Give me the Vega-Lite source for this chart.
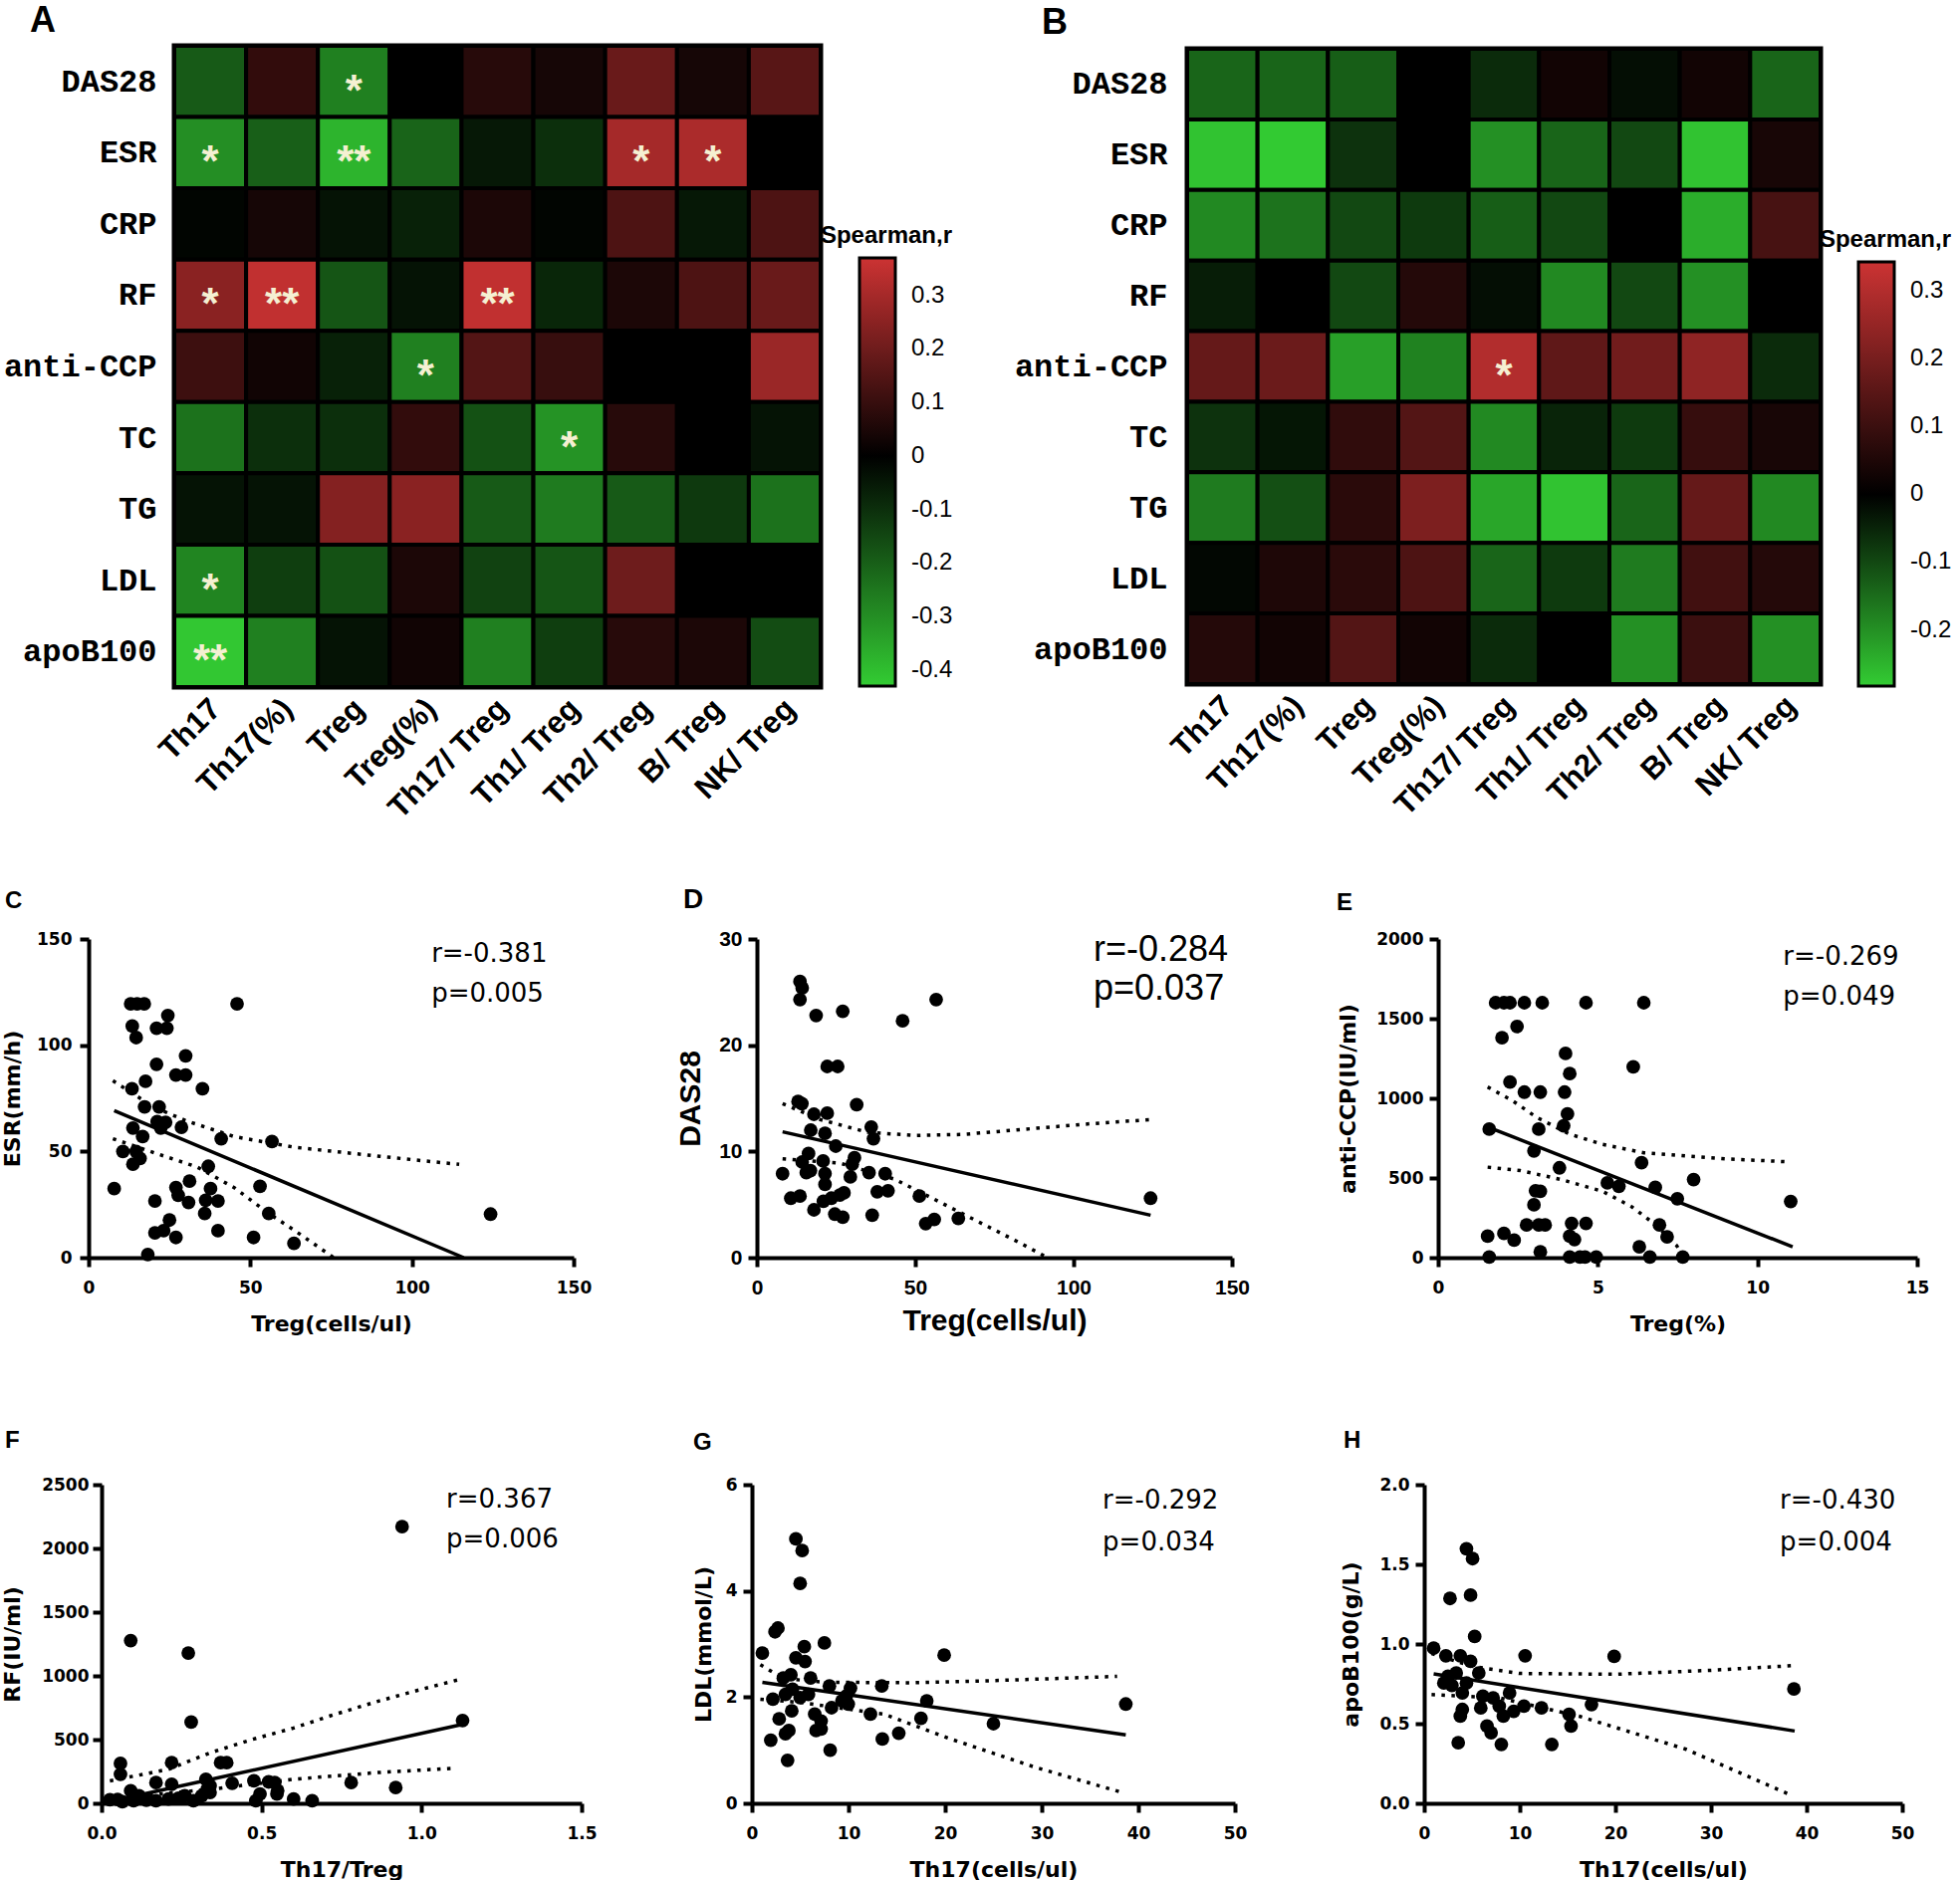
{
"$schema":"https://vega.github.io/schema/vega-lite/v6.json",
"padding":{"left":0,"top":0,"right":0,"bottom":0},
"background":"white",
"config":{
 "view":{"stroke":null},
 "font":"Liberation Sans",
 "axis":{"domainColor":"black","domainWidth":4,"tickColor":"black","tickWidth":4,"tickSize":9,"grid":false,"labelColor":"black","titleColor":"black","labelFont":"DejaVu Sans","labelFontWeight":"bold","labelFontSize":17,"titleFont":"DejaVu Sans","titleFontWeight":"bold","titleFontSize":22,"labelPadding":8,"labelFlush":false,"labelOverlap":false},
 "legend":{"labelFont":"Liberation Sans","labelFontSize":24,"labelColor":"black","titleFont":"Liberation Sans","titleFontSize":24,"titleFontWeight":"bold","titleColor":"black","labelOverlap":false},
 "title":{"font":"Liberation Sans","fontWeight":"bold","color":"black","anchor":"start","frame":"group","baseline":"alphabetic"}
},
"datasets":{
 "hA":[
  {"row":"DAS28","col":"Th17","r":-0.19,"sig":""},{"row":"DAS28","col":"Th17(%)","r":0.09,"sig":""},{"row":"DAS28","col":"Treg","r":-0.27,"sig":"*"},{"row":"DAS28","col":"Treg(%)","r":0.0,"sig":""},{"row":"DAS28","col":"Th17/ Treg","r":0.07,"sig":""},{"row":"DAS28","col":"Th1/ Treg","r":0.04,"sig":""},{"row":"DAS28","col":"Th2/ Treg","r":0.19,"sig":""},{"row":"DAS28","col":"B/ Treg","r":0.04,"sig":""},{"row":"DAS28","col":"NK/ Treg","r":0.16,"sig":""},
  {"row":"ESR","col":"Th17","r":-0.3,"sig":"*"},{"row":"ESR","col":"Th17(%)","r":-0.2,"sig":""},{"row":"ESR","col":"Treg","r":-0.38,"sig":"**"},{"row":"ESR","col":"Treg(%)","r":-0.21,"sig":""},{"row":"ESR","col":"Th17/ Treg","r":-0.05,"sig":""},{"row":"ESR","col":"Th1/ Treg","r":-0.1,"sig":""},{"row":"ESR","col":"Th2/ Treg","r":0.3,"sig":"*"},{"row":"ESR","col":"B/ Treg","r":0.31,"sig":"*"},{"row":"ESR","col":"NK/ Treg","r":0.0,"sig":""},
  {"row":"CRP","col":"Th17","r":-0.01,"sig":""},{"row":"CRP","col":"Th17(%)","r":0.04,"sig":""},{"row":"CRP","col":"Treg","r":-0.04,"sig":""},{"row":"CRP","col":"Treg(%)","r":-0.07,"sig":""},{"row":"CRP","col":"Th17/ Treg","r":0.05,"sig":""},{"row":"CRP","col":"Th1/ Treg","r":-0.01,"sig":""},{"row":"CRP","col":"Th2/ Treg","r":0.14,"sig":""},{"row":"CRP","col":"B/ Treg","r":-0.05,"sig":""},{"row":"CRP","col":"NK/ Treg","r":0.14,"sig":""},
  {"row":"RF","col":"Th17","r":0.25,"sig":"*"},{"row":"RF","col":"Th17(%)","r":0.35,"sig":"**"},{"row":"RF","col":"Treg","r":-0.18,"sig":""},{"row":"RF","col":"Treg(%)","r":-0.04,"sig":""},{"row":"RF","col":"Th17/ Treg","r":0.35,"sig":"**"},{"row":"RF","col":"Th1/ Treg","r":-0.08,"sig":""},{"row":"RF","col":"Th2/ Treg","r":0.05,"sig":""},{"row":"RF","col":"B/ Treg","r":0.14,"sig":""},{"row":"RF","col":"NK/ Treg","r":0.19,"sig":""},
  {"row":"anti-CCP","col":"Th17","r":0.11,"sig":""},{"row":"anti-CCP","col":"Th17(%)","r":0.03,"sig":""},{"row":"anti-CCP","col":"Treg","r":-0.07,"sig":""},{"row":"anti-CCP","col":"Treg(%)","r":-0.27,"sig":"*"},{"row":"anti-CCP","col":"Th17/ Treg","r":0.15,"sig":""},{"row":"anti-CCP","col":"Th1/ Treg","r":0.1,"sig":""},{"row":"anti-CCP","col":"Th2/ Treg","r":0.0,"sig":""},{"row":"anti-CCP","col":"B/ Treg","r":0.0,"sig":""},{"row":"anti-CCP","col":"NK/ Treg","r":0.28,"sig":""},
  {"row":"TC","col":"Th17","r":-0.24,"sig":""},{"row":"TC","col":"Th17(%)","r":-0.1,"sig":""},{"row":"TC","col":"Treg","r":-0.1,"sig":""},{"row":"TC","col":"Treg(%)","r":0.09,"sig":""},{"row":"TC","col":"Th17/ Treg","r":-0.17,"sig":""},{"row":"TC","col":"Th1/ Treg","r":-0.31,"sig":"*"},{"row":"TC","col":"Th2/ Treg","r":0.07,"sig":""},{"row":"TC","col":"B/ Treg","r":0.0,"sig":""},{"row":"TC","col":"NK/ Treg","r":-0.04,"sig":""},
  {"row":"TG","col":"Th17","r":-0.04,"sig":""},{"row":"TG","col":"Th17(%)","r":-0.04,"sig":""},{"row":"TG","col":"Treg","r":0.24,"sig":""},{"row":"TG","col":"Treg(%)","r":0.25,"sig":""},{"row":"TG","col":"Th17/ Treg","r":-0.19,"sig":""},{"row":"TG","col":"Th1/ Treg","r":-0.26,"sig":""},{"row":"TG","col":"Th2/ Treg","r":-0.19,"sig":""},{"row":"TG","col":"B/ Treg","r":-0.12,"sig":""},{"row":"TG","col":"NK/ Treg","r":-0.24,"sig":""},
  {"row":"LDL","col":"Th17","r":-0.28,"sig":"*"},{"row":"LDL","col":"Th17(%)","r":-0.13,"sig":""},{"row":"LDL","col":"Treg","r":-0.17,"sig":""},{"row":"LDL","col":"Treg(%)","r":0.05,"sig":""},{"row":"LDL","col":"Th17/ Treg","r":-0.14,"sig":""},{"row":"LDL","col":"Th1/ Treg","r":-0.18,"sig":""},{"row":"LDL","col":"Th2/ Treg","r":0.2,"sig":""},{"row":"LDL","col":"B/ Treg","r":0.0,"sig":""},{"row":"LDL","col":"NK/ Treg","r":0.0,"sig":""},
  {"row":"apoB100","col":"Th17","r":-0.42,"sig":"**"},{"row":"apoB100","col":"Th17(%)","r":-0.27,"sig":""},{"row":"apoB100","col":"Treg","r":-0.04,"sig":""},{"row":"apoB100","col":"Treg(%)","r":0.03,"sig":""},{"row":"apoB100","col":"Th17/ Treg","r":-0.27,"sig":""},{"row":"apoB100","col":"Th1/ Treg","r":-0.13,"sig":""},{"row":"apoB100","col":"Th2/ Treg","r":0.07,"sig":""},{"row":"apoB100","col":"B/ Treg","r":0.05,"sig":""},{"row":"apoB100","col":"NK/ Treg","r":-0.16,"sig":""}
 ],
 "hB":[
  {"row":"DAS28","col":"Th17","r":-0.14,"sig":""},{"row":"DAS28","col":"Th17(%)","r":-0.14,"sig":""},{"row":"DAS28","col":"Treg","r":-0.13,"sig":""},{"row":"DAS28","col":"Treg(%)","r":0.0,"sig":""},{"row":"DAS28","col":"Th17/ Treg","r":-0.06,"sig":""},{"row":"DAS28","col":"Th1/ Treg","r":0.03,"sig":""},{"row":"DAS28","col":"Th2/ Treg","r":-0.02,"sig":""},{"row":"DAS28","col":"B/ Treg","r":0.03,"sig":""},{"row":"DAS28","col":"NK/ Treg","r":-0.14,"sig":""},
  {"row":"ESR","col":"Th17","r":-0.27,"sig":""},{"row":"ESR","col":"Th17(%)","r":-0.28,"sig":""},{"row":"ESR","col":"Treg","r":-0.07,"sig":""},{"row":"ESR","col":"Treg(%)","r":0.0,"sig":""},{"row":"ESR","col":"Th17/ Treg","r":-0.2,"sig":""},{"row":"ESR","col":"Th1/ Treg","r":-0.14,"sig":""},{"row":"ESR","col":"Th2/ Treg","r":-0.1,"sig":""},{"row":"ESR","col":"B/ Treg","r":-0.27,"sig":""},{"row":"ESR","col":"NK/ Treg","r":0.04,"sig":""},
  {"row":"CRP","col":"Th17","r":-0.19,"sig":""},{"row":"CRP","col":"Th17(%)","r":-0.16,"sig":""},{"row":"CRP","col":"Treg","r":-0.1,"sig":""},{"row":"CRP","col":"Treg(%)","r":-0.08,"sig":""},{"row":"CRP","col":"Th17/ Treg","r":-0.13,"sig":""},{"row":"CRP","col":"Th1/ Treg","r":-0.1,"sig":""},{"row":"CRP","col":"Th2/ Treg","r":0.0,"sig":""},{"row":"CRP","col":"B/ Treg","r":-0.24,"sig":""},{"row":"CRP","col":"NK/ Treg","r":0.12,"sig":""},
  {"row":"RF","col":"Th17","r":-0.04,"sig":""},{"row":"RF","col":"Th17(%)","r":0.0,"sig":""},{"row":"RF","col":"Treg","r":-0.1,"sig":""},{"row":"RF","col":"Treg(%)","r":0.06,"sig":""},{"row":"RF","col":"Th17/ Treg","r":-0.02,"sig":""},{"row":"RF","col":"Th1/ Treg","r":-0.19,"sig":""},{"row":"RF","col":"Th2/ Treg","r":-0.1,"sig":""},{"row":"RF","col":"B/ Treg","r":-0.2,"sig":""},{"row":"RF","col":"NK/ Treg","r":0.0,"sig":""},
  {"row":"anti-CCP","col":"Th17","r":0.17,"sig":""},{"row":"anti-CCP","col":"Th17(%)","r":0.18,"sig":""},{"row":"anti-CCP","col":"Treg","r":-0.22,"sig":""},{"row":"anti-CCP","col":"Treg(%)","r":-0.18,"sig":""},{"row":"anti-CCP","col":"Th17/ Treg","r":0.3,"sig":"*"},{"row":"anti-CCP","col":"Th1/ Treg","r":0.16,"sig":""},{"row":"anti-CCP","col":"Th2/ Treg","r":0.19,"sig":""},{"row":"anti-CCP","col":"B/ Treg","r":0.24,"sig":""},{"row":"anti-CCP","col":"NK/ Treg","r":-0.06,"sig":""},
  {"row":"TC","col":"Th17","r":-0.07,"sig":""},{"row":"TC","col":"Th17(%)","r":-0.03,"sig":""},{"row":"TC","col":"Treg","r":0.08,"sig":""},{"row":"TC","col":"Treg(%)","r":0.14,"sig":""},{"row":"TC","col":"Th17/ Treg","r":-0.19,"sig":""},{"row":"TC","col":"Th1/ Treg","r":-0.05,"sig":""},{"row":"TC","col":"Th2/ Treg","r":-0.08,"sig":""},{"row":"TC","col":"B/ Treg","r":0.09,"sig":""},{"row":"TC","col":"NK/ Treg","r":0.04,"sig":""},
  {"row":"TG","col":"Th17","r":-0.17,"sig":""},{"row":"TG","col":"Th17(%)","r":-0.11,"sig":""},{"row":"TG","col":"Treg","r":0.07,"sig":""},{"row":"TG","col":"Treg(%)","r":0.21,"sig":""},{"row":"TG","col":"Th17/ Treg","r":-0.23,"sig":""},{"row":"TG","col":"Th1/ Treg","r":-0.27,"sig":""},{"row":"TG","col":"Th2/ Treg","r":-0.14,"sig":""},{"row":"TG","col":"B/ Treg","r":0.17,"sig":""},{"row":"TG","col":"NK/ Treg","r":-0.19,"sig":""},
  {"row":"LDL","col":"Th17","r":-0.01,"sig":""},{"row":"LDL","col":"Th17(%)","r":0.05,"sig":""},{"row":"LDL","col":"Treg","r":0.07,"sig":""},{"row":"LDL","col":"Treg(%)","r":0.13,"sig":""},{"row":"LDL","col":"Th17/ Treg","r":-0.14,"sig":""},{"row":"LDL","col":"Th1/ Treg","r":-0.08,"sig":""},{"row":"LDL","col":"Th2/ Treg","r":-0.17,"sig":""},{"row":"LDL","col":"B/ Treg","r":0.11,"sig":""},{"row":"LDL","col":"NK/ Treg","r":0.06,"sig":""},
  {"row":"apoB100","col":"Th17","r":0.06,"sig":""},{"row":"apoB100","col":"Th17(%)","r":0.03,"sig":""},{"row":"apoB100","col":"Treg","r":0.14,"sig":""},{"row":"apoB100","col":"Treg(%)","r":0.03,"sig":""},{"row":"apoB100","col":"Th17/ Treg","r":-0.06,"sig":""},{"row":"apoB100","col":"Th1/ Treg","r":0.0,"sig":""},{"row":"apoB100","col":"Th2/ Treg","r":-0.2,"sig":""},{"row":"apoB100","col":"B/ Treg","r":0.1,"sig":""},{"row":"apoB100","col":"NK/ Treg","r":-0.2,"sig":""}
 ],
 "cP":[{"x":7.9,"y":32.5},{"x":10.6,"y":50},{"x":13.0,"y":119.5},{"x":15.0,"y":119.5},{"x":17.2,"y":119.5},{"x":13.5,"y":109},{"x":14.7,"y":103.6},{"x":13.4,"y":79.5},{"x":17.6,"y":83},{"x":17.3,"y":71},{"x":13.7,"y":61},{"x":16.7,"y":57},{"x":13.7,"y":44},{"x":15.9,"y":46.7},{"x":14.7,"y":50},{"x":21,"y":91},{"x":21,"y":108},{"x":24.2,"y":108},{"x":24.5,"y":114},{"x":21.8,"y":71},{"x":21.2,"y":64},{"x":23.8,"y":63.7},{"x":22.3,"y":61},{"x":27,"y":86},{"x":30,"y":86},{"x":30,"y":95},{"x":28.7,"y":61.4},{"x":35.2,"y":79.5},{"x":41,"y":56},{"x":45.9,"y":119.5},{"x":56.7,"y":54.7},{"x":18.3,"y":1.5},{"x":20.5,"y":26.7},{"x":20.5,"y":11.7},{"x":23.2,"y":12.7},{"x":25,"y":17.7},{"x":27,"y":9.5},{"x":27,"y":33},{"x":27.7,"y":29.4},{"x":31.2,"y":36},{"x":30.9,"y":26},{"x":37,"y":43},{"x":37.7,"y":32.5},{"x":36.2,"y":27},{"x":40,"y":26.7},{"x":35.9,"y":20.8},{"x":40,"y":12.7},{"x":51,"y":9.5},{"x":53,"y":33.6},{"x":55.7,"y":20.8},{"x":63.5,"y":6.7},{"x":124.3,"y":20.5}],
 "cL":[{"k":"fit","x":7.9,"y":69.2},{"k":"fit","x":116,"y":0},
  {"k":"up","x":7.5,"y":83.3},{"k":"up","x":20,"y":71},{"k":"up","x":30,"y":64.5},{"k":"up","x":45,"y":57},{"k":"up","x":63.5,"y":52},{"k":"up","x":90,"y":47.7},{"k":"up","x":114.6,"y":43.9},
  {"k":"lo","x":7.5,"y":56},{"k":"lo","x":20,"y":49.5},{"k":"lo","x":33.5,"y":42.7},{"k":"lo","x":45,"y":33},{"k":"lo","x":55.7,"y":20.8},{"k":"lo","x":63.5,"y":13},{"k":"lo","x":75.8,"y":0}],
 "cT":[{"x":106,"y":143,"t":"r=-0.381"},{"x":106,"y":124,"t":"p=0.005"}],
 "dP":[{"x":8.1,"y":7.9},{"x":10.7,"y":5.6},{"x":13.6,"y":5.8},{"x":13.6,"y":26.0},{"x":14.3,"y":25.4},{"x":13.6,"y":24.3},{"x":18.7,"y":22.8},{"x":13,"y":14.7},{"x":14.2,"y":14.5},{"x":18,"y":13.5},{"x":22.2,"y":13.6},{"x":22.2,"y":18.0},{"x":25.5,"y":18.0},{"x":27.1,"y":23.2},{"x":31.5,"y":14.4},{"x":46,"y":22.3},{"x":56.6,"y":24.3},{"x":17,"y":12.0},{"x":21.5,"y":11.7},{"x":24.9,"y":10.5},{"x":16.3,"y":9.8},{"x":14.3,"y":9.0},{"x":15.6,"y":8.0},{"x":16.9,"y":8.2},{"x":20.9,"y":9.1},{"x":21.5,"y":7.9},{"x":21.5,"y":6.9},{"x":30.8,"y":9.4},{"x":30.1,"y":8.8},{"x":29.5,"y":7.6},{"x":36.1,"y":12.3},{"x":36.8,"y":11.2},{"x":35.4,"y":8.0},{"x":40.5,"y":7.9},{"x":38,"y":6.2},{"x":41.4,"y":6.3},{"x":27.5,"y":6.1},{"x":26.2,"y":5.9},{"x":18,"y":4.5},{"x":21,"y":5.3},{"x":23.5,"y":5.6},{"x":24.6,"y":4.1},{"x":27.1,"y":3.8},{"x":36.4,"y":4.0},{"x":51.3,"y":5.8},{"x":53.3,"y":3.2},{"x":56,"y":3.6},{"x":63.6,"y":3.7},{"x":124.3,"y":5.6}],
 "dL":[{"k":"fit","x":8.1,"y":11.85},{"k":"fit","x":124.3,"y":4.0},
  {"k":"up","x":8.1,"y":14.5},{"k":"up","x":20,"y":13.0},{"k":"up","x":35,"y":11.8},{"k":"up","x":50,"y":11.5},{"k":"up","x":65,"y":11.6},{"k":"up","x":85,"y":12.1},{"k":"up","x":105,"y":12.6},{"k":"up","x":124.3,"y":13.0},
  {"k":"lo","x":8.1,"y":9.3},{"k":"lo","x":26.2,"y":8.9},{"k":"lo","x":43.4,"y":7.4},{"k":"lo","x":54,"y":5.8},{"k":"lo","x":69.8,"y":3.4},{"k":"lo","x":83,"y":1.4},{"k":"lo","x":91.7,"y":0}],
 "dT":[{"x":106.3,"y":29.0,"t":"r=-0.284"},{"x":106.3,"y":25.3,"t":"p=0.037"}],
 "eP":[{"x":1.6,"y":4},{"x":1.55,"y":135},{"x":1.6,"y":807},{"x":1.8,"y":1600},{"x":2.06,"y":1600},{"x":2.25,"y":1600},{"x":2.7,"y":1600},{"x":3.26,"y":1600},{"x":2.0,"y":1381},{"x":2.47,"y":1451},{"x":2.25,"y":1102},{"x":2.7,"y":1039},{"x":3.2,"y":1039},{"x":2.06,"y":152},{"x":2.38,"y":110},{"x":2.77,"y":205},{"x":3.15,"y":205},{"x":3.35,"y":205},{"x":3.15,"y":807},{"x":3.0,"y":670},{"x":3.2,"y":416},{"x":3.05,"y":420},{"x":3.0,"y":332},{"x":3.2,"y":36},{"x":3.99,"y":1282},{"x":4.12,"y":1155},{"x":3.96,"y":1039},{"x":4.05,"y":902},{"x":3.93,"y":828},{"x":3.8,"y":564},{"x":4.18,"y":215},{"x":4.12,"y":135},{"x":4.27,"y":114},{"x":4.12,"y":4},{"x":4.44,"y":4},{"x":4.6,"y":4},{"x":4.63,"y":1600},{"x":4.63,"y":215},{"x":4.95,"y":4},{"x":5.3,"y":469},{"x":5.66,"y":448},{"x":6.11,"y":1197},{"x":6.44,"y":1600},{"x":6.37,"y":596},{"x":6.3,"y":68},{"x":6.63,"y":4},{"x":6.8,"y":441},{"x":6.93,"y":205},{"x":7.17,"y":131},{"x":7.49,"y":370},{"x":7.66,"y":4},{"x":8.0,"y":490},{"x":11.04,"y":353}],
 "eL":[{"k":"fit","x":1.6,"y":817},{"k":"fit","x":11.1,"y":68},
  {"k":"up","x":1.55,"y":1071},{"k":"up","x":2.32,"y":986},{"k":"up","x":3.09,"y":880},{"k":"up","x":4.12,"y":775},{"k":"up","x":5.15,"y":711},{"k":"up","x":6.44,"y":658},{"k":"up","x":9.0,"y":620},{"k":"up","x":11.04,"y":601},
  {"k":"lo","x":1.55,"y":568},{"k":"lo","x":2.57,"y":547},{"k":"lo","x":3.86,"y":490},{"k":"lo","x":5.15,"y":416},{"k":"lo","x":6.05,"y":321},{"k":"lo","x":6.82,"y":205},{"k":"lo","x":7.46,"y":78},{"k":"lo","x":7.72,"y":0}],
 "eT":[{"x":10.8,"y":1886,"t":"r=-0.269"},{"x":10.8,"y":1638,"t":"p=0.049"}],
 "fP":[{"x":0.939,"y":2171},{"x":0.091,"y":1277},{"x":0.271,"y":1179},{"x":0.28,"y":637},{"x":1.128,"y":650},{"x":0.059,"y":313},{"x":0.059,"y":228},{"x":0.219,"y":319},{"x":0.372,"y":319},{"x":0.391,"y":319},{"x":0.17,"y":163},{"x":0.219,"y":150},{"x":0.326,"y":189},{"x":0.408,"y":158},{"x":0.476,"y":176},{"x":0.522,"y":168},{"x":0.541,"y":163},{"x":0.78,"y":163},{"x":0.919,"y":124},{"x":0.091,"y":98},{"x":0.026,"y":28},{"x":0.117,"y":60},{"x":0.26,"y":60},{"x":0.313,"y":60},{"x":0.339,"y":85},{"x":0.495,"y":73},{"x":0.548,"y":73},{"x":0.6,"y":34},{"x":0.658,"y":21},{"x":0.209,"y":34},{"x":0.17,"y":20},{"x":0.065,"y":13},{"x":0.14,"y":25},{"x":0.287,"y":21},{"x":0.339,"y":137},{"x":0.482,"y":21},{"x":0.05,"y":30},{"x":0.1,"y":20},{"x":0.24,"y":40},{"x":0.33,"y":110},{"x":0.55,"y":100}],
 "fL":[{"k":"fit","x":0.02,"y":12},{"k":"fit","x":1.12,"y":615},
  {"k":"up","x":0.026,"y":176},{"k":"up","x":0.209,"y":267},{"k":"up","x":0.339,"y":396},{"k":"up","x":0.469,"y":500},{"k":"up","x":0.6,"y":591},{"k":"up","x":0.73,"y":699},{"k":"up","x":0.86,"y":798},{"k":"up","x":0.991,"y":889},{"k":"up","x":1.119,"y":972},
  {"k":"lo","x":0.026,"y":34},{"k":"lo","x":0.365,"y":117},{"k":"lo","x":0.6,"y":189},{"k":"lo","x":0.86,"y":241},{"k":"lo","x":1.10,"y":275}],
 "fT":[{"x":1.077,"y":2383,"t":"r=0.367"},{"x":1.077,"y":2070,"t":"p=0.006"}],
 "gP":[{"x":1.08,"y":2.83},{"x":1.95,"y":1.19},{"x":2.17,"y":1.96},{"x":2.39,"y":3.23},{"x":2.69,"y":3.30},{"x":2.82,"y":1.59},{"x":3.25,"y":2.36},{"x":3.47,"y":1.31},{"x":3.82,"y":1.37},{"x":3.69,"y":0.81},{"x":4.03,"y":2.42},{"x":4.12,"y":1.74},{"x":3.47,"y":2.05},{"x":4.55,"y":4.98},{"x":5.2,"y":4.76},{"x":4.99,"y":4.14},{"x":4.55,"y":2.74},{"x":5.42,"y":2.95},{"x":5.5,"y":2.67},{"x":4.99,"y":1.99},{"x":4.2,"y":2.15},{"x":6.07,"y":2.36},{"x":5.85,"y":2.05},{"x":6.5,"y":1.68},{"x":6.64,"y":1.37},{"x":7.16,"y":1.55},{"x":7.16,"y":1.40},{"x":7.5,"y":3.02},{"x":8.02,"y":2.21},{"x":8.1,"y":1.0},{"x":8.24,"y":1.8},{"x":9.32,"y":1.93},{"x":9.76,"y":2.02},{"x":10.2,"y":2.17},{"x":9.97,"y":1.87},{"x":12.27,"y":1.68},{"x":13.44,"y":2.21},{"x":13.5,"y":1.21},{"x":15.2,"y":1.32},{"x":17.5,"y":1.6},{"x":18.1,"y":1.93},{"x":19.9,"y":2.79},{"x":25.0,"y":1.5},{"x":38.7,"y":1.87}],
 "gL":[{"k":"fit","x":1.08,"y":2.28},{"k":"fit","x":38.7,"y":1.29},
  {"k":"up","x":0.87,"y":2.61},{"k":"up","x":3.25,"y":2.35},{"k":"up","x":7.6,"y":2.28},{"k":"up","x":16.3,"y":2.27},{"k":"up","x":24.9,"y":2.31},{"k":"up","x":37.8,"y":2.39},
  {"k":"lo","x":0.87,"y":1.96},{"k":"lo","x":5,"y":1.9},{"k":"lo","x":13.66,"y":1.68},{"k":"lo","x":20.6,"y":1.21},{"k":"lo","x":29.3,"y":0.68},{"k":"lo","x":38.6,"y":0.19}],
 "gT":[{"x":36.3,"y":5.70,"t":"r=-0.292"},{"x":36.3,"y":4.92,"t":"p=0.034"}],
 "hP":[{"x":0.99,"y":0.974},{"x":2.27,"y":0.926},{"x":2.7,"y":1.286},{"x":2.06,"y":0.755},{"x":2.49,"y":0.797},{"x":3.35,"y":0.818},{"x":3.56,"y":0.381},{"x":3.78,"y":0.926},{"x":3.78,"y":0.547},{"x":3.99,"y":0.589},{"x":3.99,"y":0.693},{"x":4.42,"y":1.598},{"x":5.06,"y":1.536},{"x":4.85,"y":1.307},{"x":5.28,"y":1.047},{"x":4.85,"y":0.891},{"x":4.42,"y":0.755},{"x":5.71,"y":0.818},{"x":5.92,"y":0.599},{"x":6.14,"y":0.672},{"x":6.57,"y":0.485},{"x":7.0,"y":0.443},{"x":7.21,"y":0.662},{"x":8.07,"y":0.370},{"x":8.28,"y":0.547},{"x":7.85,"y":0.61},{"x":8.93,"y":0.693},{"x":9.36,"y":0.578},{"x":10.43,"y":0.61},{"x":10.56,"y":0.926},{"x":12.27,"y":0.599},{"x":13.35,"y":0.370},{"x":15.15,"y":0.558},{"x":15.36,"y":0.485},{"x":17.5,"y":0.62},{"x":19.87,"y":0.922},{"x":38.67,"y":0.718},{"x":2.9,"y":0.74}],
 "hL":[{"k":"fit","x":0.99,"y":0.812},{"k":"fit","x":38.75,"y":0.454},
  {"k":"up","x":0.77,"y":0.94},{"k":"up","x":5,"y":0.86},{"k":"up","x":10,"y":0.815},{"k":"up","x":20,"y":0.81},{"k":"up","x":30,"y":0.835},{"k":"up","x":38.75,"y":0.865},
  {"k":"lo","x":0.77,"y":0.683},{"k":"lo","x":8,"y":0.66},{"k":"lo","x":16.2,"y":0.547},{"k":"lo","x":27.4,"y":0.339},{"k":"lo","x":38.5,"y":0.048}],
 "hT":[{"x":37.2,"y":1.9,"t":"r=-0.430"},{"x":37.2,"y":1.64,"t":"p=0.004"}]
},
"resolve":{"scale":{"x":"independent","y":"independent","color":"independent"},"legend":{"color":"independent"}},
"spacing":0,
"vconcat":[
 {"hconcat":[
   {"width":173,"height":10,"data":{"values":[{}]},"mark":{"type":"point","opacity":0,"size":1},"encoding":{}},
   {"width":649,"height":644,"data":{"name":"hA"},
    "title":{"text":"A","dx":-145,"offset":4,"fontSize":36},
    "view":{"stroke":"black","strokeWidth":5},
    "layer":[
     {"mark":{"type":"rect","stroke":"black","strokeWidth":4},
      "encoding":{
       "x":{"field":"col","type":"nominal","sort":["Th17","Th17(%)","Treg","Treg(%)","Th17/ Treg","Th1/ Treg","Th2/ Treg","B/ Treg","NK/ Treg"],"scale":{"paddingInner":0,"paddingOuter":0},
        "axis":{"title":null,"ticks":false,"domain":false,"labelAngle":-45,"labelAlign":"right","labelBaseline":"middle","labelFont":"Liberation Sans","labelFontWeight":"bold","labelFontSize":31,"labelPadding":17,"labelOffset":6,"labelLimit":400}},
       "y":{"field":"row","type":"nominal","sort":["DAS28","ESR","CRP","RF","anti-CCP","TC","TG","LDL","apoB100"],"scale":{"paddingInner":0,"paddingOuter":0},
        "axis":{"title":null,"ticks":false,"domain":false,"labelFont":"Liberation Mono","labelFontWeight":"bold","labelFontSize":32,"labelPadding":18,"labelLimit":400}},
       "color":{"field":"r","type":"quantitative","scale":{"domain":[-0.43,0,0.37],"range":["#33cc33","#000000","#cc3333"],"interpolate":"rgb"},
        "legend":{"title":"Spearman,r","orient":"none","legendX":649,"legendY":179,"direction":"vertical","gradientLength":430,"gradientThickness":36,"gradientStrokeColor":"black","gradientStrokeWidth":3,"values":[0.3,0.2,0.1,0,-0.1,-0.2,-0.3,-0.4],"labelExpr":"datum.value == 0 ? '0' : toString(datum.value)","labelOffset":16,"titlePadding":10,"titleAnchor":"end"}}
      }},
     {"transform":[{"filter":"datum.sig != ''"}],
      "mark":{"type":"text","color":"#f5f0d2","fontSize":44,"fontWeight":"bold","font":"Liberation Sans","baseline":"alphabetic","dy":24},
      "encoding":{
       "x":{"field":"col","type":"nominal","sort":["Th17","Th17(%)","Treg","Treg(%)","Th17/ Treg","Th1/ Treg","Th2/ Treg","B/ Treg","NK/ Treg"]},
       "y":{"field":"row","type":"nominal","sort":["DAS28","ESR","CRP","RF","anti-CCP","TC","TG","LDL","apoB100"]},
       "text":{"field":"sig"}}}
    ]},
   {"width":368,"height":10,"data":{"values":[{}]},"mark":{"type":"point","opacity":0,"size":1},"encoding":{}},
   {"width":636,"height":638,"data":{"name":"hB"},
    "title":{"text":"B","dx":-146,"offset":5,"fontSize":36},
    "view":{"stroke":"black","strokeWidth":5},
    "layer":[
     {"mark":{"type":"rect","stroke":"black","strokeWidth":4},
      "encoding":{
       "x":{"field":"col","type":"nominal","sort":["Th17","Th17(%)","Treg","Treg(%)","Th17/ Treg","Th1/ Treg","Th2/ Treg","B/ Treg","NK/ Treg"],"scale":{"paddingInner":0,"paddingOuter":0},
        "axis":{"title":null,"ticks":false,"domain":false,"labelAngle":-45,"labelAlign":"right","labelBaseline":"middle","labelFont":"Liberation Sans","labelFontWeight":"bold","labelFontSize":31,"labelPadding":17,"labelOffset":6,"labelLimit":400}},
       "y":{"field":"row","type":"nominal","sort":["DAS28","ESR","CRP","RF","anti-CCP","TC","TG","LDL","apoB100"],"scale":{"paddingInner":0,"paddingOuter":0},
        "axis":{"title":null,"ticks":false,"domain":false,"labelFont":"Liberation Mono","labelFontWeight":"bold","labelFontSize":32,"labelPadding":20,"labelLimit":400}},
       "color":{"field":"r","type":"quantitative","scale":{"domain":[-0.283,0,0.343],"range":["#33cc33","#000000","#cc3333"],"interpolate":"rgb"},
        "legend":{"title":"Spearman,r","orient":"none","legendX":635,"legendY":180,"direction":"vertical","gradientLength":426,"gradientThickness":36,"gradientStrokeColor":"black","gradientStrokeWidth":3,"values":[0.3,0.2,0.1,0,-0.1,-0.2],"labelExpr":"datum.value == 0 ? '0' : toString(datum.value)","labelOffset":16,"titlePadding":10,"titleAnchor":"end"}}
      }},
     {"transform":[{"filter":"datum.sig != ''"}],
      "mark":{"type":"text","color":"#f5f0d2","fontSize":44,"fontWeight":"bold","font":"Liberation Sans","baseline":"alphabetic","dy":24},
      "encoding":{
       "x":{"field":"col","type":"nominal","sort":["Th17","Th17(%)","Treg","Treg(%)","Th17/ Treg","Th1/ Treg","Th2/ Treg","B/ Treg","NK/ Treg"]},
       "y":{"field":"row","type":"nominal","sort":["DAS28","ESR","CRP","RF","anti-CCP","TC","TG","LDL","apoB100"]},
       "text":{"field":"sig"}}}
    ]}
  ],
  "spacing":0,"bounds":"flush","center":true,
  "resolve":{"scale":{"x":"independent","y":"independent","color":"independent"},"legend":{"color":"independent"}}},
 {"width":1,"height":60,"data":{"values":[{}]},"mark":{"type":"point","opacity":0,"size":1},"encoding":{}},
 {"hconcat":[
   {"width":87,"height":10,"data":{"values":[{}]},"mark":{"type":"point","opacity":0,"size":1},"encoding":{}},
   {"width":487,"height":320,
    "title":{"text":"C","dx":-84,"offset":17,"fontSize":24},
    "layer":[
     {"data":{"name":"cP"},"mark":{"type":"circle","size":190,"color":"black","opacity":1},
      "encoding":{"x":{"field":"x","type":"quantitative","scale":{"domain":[0,150],"nice":false,"zero":false},"axis":{"values":[0,50,100,150],"format":"d","title":"Treg(cells/ul)","labelPadding":13,"titlePadding":18}},
       "y":{"field":"y","type":"quantitative","scale":{"domain":[0,150],"nice":false,"zero":false},"axis":{"values":[0,50,100,150],"format":"d","title":"ESR(mm/h)","labelPadding":8,"titlePadding":12}}}},
     {"data":{"name":"cL"},"transform":[{"filter":"datum.k == 'fit'"}],"mark":{"type":"line","color":"black","strokeWidth":3.5},"encoding":{"x":{"field":"x","type":"quantitative"},"y":{"field":"y","type":"quantitative"}}},
     {"data":{"name":"cL"},"transform":[{"filter":"datum.k != 'fit'"}],"mark":{"type":"line","color":"black","strokeWidth":3.5,"strokeDash":[3.5,6.5]},"encoding":{"x":{"field":"x","type":"quantitative"},"y":{"field":"y","type":"quantitative"},"detail":{"field":"k"}}},
     {"data":{"name":"cT"},"mark":{"type":"text","align":"left","baseline":"middle","font":"DejaVu Sans","fontSize":26,"color":"black"},"encoding":{"x":{"field":"x","type":"quantitative"},"y":{"field":"y","type":"quantitative"},"text":{"field":"t"}}}
    ]},
   {"width":184,"height":10,"data":{"values":[{}]},"mark":{"type":"point","opacity":0,"size":1},"encoding":{}},
   {"width":477,"height":320,
    "title":{"text":"D","dx":-74,"offset":14,"fontSize":28},
    "layer":[
     {"data":{"name":"dP"},"mark":{"type":"circle","size":190,"color":"black","opacity":1},
      "encoding":{"x":{"field":"x","type":"quantitative","scale":{"domain":[0,150],"nice":false,"zero":false},"axis":{"values":[0,50,100,150],"format":"d","title":"Treg(cells/ul)","labelFont":"Liberation Sans","labelFontSize":21,"titleFont":"Liberation Sans","titleFontSize":30,"labelPadding":10,"titlePadding":8}},
       "y":{"field":"y","type":"quantitative","scale":{"domain":[0,30],"nice":false,"zero":false},"axis":{"values":[0,10,20,30],"format":"d","title":"DAS28","labelFont":"Liberation Sans","labelFontSize":21,"titleFont":"Liberation Sans","titleFontSize":30,"labelPadding":6,"titlePadding":13}}}},
     {"data":{"name":"dL"},"transform":[{"filter":"datum.k == 'fit'"}],"mark":{"type":"line","color":"black","strokeWidth":3.5},"encoding":{"x":{"field":"x","type":"quantitative"},"y":{"field":"y","type":"quantitative"}}},
     {"data":{"name":"dL"},"transform":[{"filter":"datum.k != 'fit'"}],"mark":{"type":"line","color":"black","strokeWidth":3.5,"strokeDash":[3.5,6.5]},"encoding":{"x":{"field":"x","type":"quantitative"},"y":{"field":"y","type":"quantitative"},"detail":{"field":"k"}}},
     {"data":{"name":"dT"},"mark":{"type":"text","align":"left","baseline":"middle","font":"Liberation Sans","fontSize":36,"color":"black"},"encoding":{"x":{"field":"x","type":"quantitative"},"y":{"field":"y","type":"quantitative"},"text":{"field":"t"}}}
    ]},
   {"width":207,"height":10,"data":{"values":[{}]},"mark":{"type":"point","opacity":0,"size":1},"encoding":{}},
   {"width":481,"height":320,
    "title":{"text":"E","dx":-102,"offset":15,"fontSize":24},
    "layer":[
     {"data":{"name":"eP"},"mark":{"type":"circle","size":190,"color":"black","opacity":1},
      "encoding":{"x":{"field":"x","type":"quantitative","scale":{"domain":[0,15],"nice":false,"zero":false},"axis":{"values":[0,5,10,15],"format":"d","title":"Treg(%)","labelPadding":13,"titlePadding":18}},
       "y":{"field":"y","type":"quantitative","scale":{"domain":[0,2000],"nice":false,"zero":false},"axis":{"values":[0,500,1000,1500,2000],"format":"d","title":"anti-CCP(IU/ml)","labelPadding":6,"titlePadding":16}}}},
     {"data":{"name":"eL"},"transform":[{"filter":"datum.k == 'fit'"}],"mark":{"type":"line","color":"black","strokeWidth":3.5},"encoding":{"x":{"field":"x","type":"quantitative"},"y":{"field":"y","type":"quantitative"}}},
     {"data":{"name":"eL"},"transform":[{"filter":"datum.k != 'fit'"}],"mark":{"type":"line","color":"black","strokeWidth":3.5,"strokeDash":[3.5,6.5]},"encoding":{"x":{"field":"x","type":"quantitative"},"y":{"field":"y","type":"quantitative"},"detail":{"field":"k"}}},
     {"data":{"name":"eT"},"mark":{"type":"text","align":"left","baseline":"middle","font":"DejaVu Sans","fontSize":26,"color":"black"},"encoding":{"x":{"field":"x","type":"quantitative"},"y":{"field":"y","type":"quantitative"},"text":{"field":"t"}}}
    ]}
  ],
  "spacing":0,"bounds":"flush",
  "resolve":{"scale":{"x":"independent","y":"independent"}}},
 {"width":1,"height":94,"data":{"values":[{}]},"mark":{"type":"point","opacity":0,"size":1},"encoding":{}},
 {"hconcat":[
   {"width":100,"height":10,"data":{"values":[{}]},"mark":{"type":"point","opacity":0,"size":1},"encoding":{}},
   {"width":482,"height":320,
    "title":{"text":"F","dx":-97,"offset":23,"fontSize":24},
    "layer":[
     {"data":{"name":"fP"},"mark":{"type":"circle","size":190,"color":"black","opacity":1},
      "encoding":{"x":{"field":"x","type":"quantitative","scale":{"domain":[0,1.5],"nice":false,"zero":false},"axis":{"values":[0,0.5,1,1.5],"format":".1f","title":"Th17/Treg","labelPadding":13,"titlePadding":18}},
       "y":{"field":"y","type":"quantitative","scale":{"domain":[0,2500],"nice":false,"zero":false},"axis":{"values":[0,500,1000,1500,2000,2500],"format":"d","title":"RF(IU/ml)","labelPadding":4,"titlePadding":17}}}},
     {"data":{"name":"fL"},"transform":[{"filter":"datum.k == 'fit'"}],"mark":{"type":"line","color":"black","strokeWidth":3.5},"encoding":{"x":{"field":"x","type":"quantitative"},"y":{"field":"y","type":"quantitative"}}},
     {"data":{"name":"fL"},"transform":[{"filter":"datum.k != 'fit'"}],"mark":{"type":"line","color":"black","strokeWidth":3.5,"strokeDash":[3.5,6.5]},"encoding":{"x":{"field":"x","type":"quantitative"},"y":{"field":"y","type":"quantitative"},"detail":{"field":"k"}}},
     {"data":{"name":"fT"},"mark":{"type":"text","align":"left","baseline":"middle","font":"DejaVu Sans","fontSize":26,"color":"black"},"encoding":{"x":{"field":"x","type":"quantitative"},"y":{"field":"y","type":"quantitative"},"text":{"field":"t"}}}
    ]},
   {"width":171,"height":10,"data":{"values":[{}]},"mark":{"type":"point","opacity":0,"size":1},"encoding":{}},
   {"width":485,"height":320,
    "title":{"text":"G","dx":-59,"offset":21,"fontSize":24},
    "layer":[
     {"data":{"name":"gP"},"mark":{"type":"circle","size":190,"color":"black","opacity":1},
      "encoding":{"x":{"field":"x","type":"quantitative","scale":{"domain":[0,50],"nice":false,"zero":false},"axis":{"values":[0,10,20,30,40,50],"format":"d","title":"Th17(cells/ul)","labelPadding":13,"titlePadding":18}},
       "y":{"field":"y","type":"quantitative","scale":{"domain":[0,6],"nice":false,"zero":false},"axis":{"values":[0,2,4,6],"format":"d","title":"LDL(mmol/L)","labelPadding":6,"titlePadding":10}}}},
     {"data":{"name":"gL"},"transform":[{"filter":"datum.k == 'fit'"}],"mark":{"type":"line","color":"black","strokeWidth":3.5},"encoding":{"x":{"field":"x","type":"quantitative"},"y":{"field":"y","type":"quantitative"}}},
     {"data":{"name":"gL"},"transform":[{"filter":"datum.k != 'fit'"}],"mark":{"type":"line","color":"black","strokeWidth":3.5,"strokeDash":[3.5,6.5]},"encoding":{"x":{"field":"x","type":"quantitative"},"y":{"field":"y","type":"quantitative"},"detail":{"field":"k"}}},
     {"data":{"name":"gT"},"mark":{"type":"text","align":"left","baseline":"middle","font":"DejaVu Sans","fontSize":26,"color":"black"},"encoding":{"x":{"field":"x","type":"quantitative"},"y":{"field":"y","type":"quantitative"},"text":{"field":"t"}}}
    ]},
   {"width":190,"height":10,"data":{"values":[{}]},"mark":{"type":"point","opacity":0,"size":1},"encoding":{}},
   {"width":480,"height":320,
    "title":{"text":"H","dx":-81,"offset":23,"fontSize":24},
    "layer":[
     {"data":{"name":"hP"},"mark":{"type":"circle","size":190,"color":"black","opacity":1},
      "encoding":{"x":{"field":"x","type":"quantitative","scale":{"domain":[0,50],"nice":false,"zero":false},"axis":{"values":[0,10,20,30,40,50],"format":"d","title":"Th17(cells/ul)","labelPadding":13,"titlePadding":18}},
       "y":{"field":"y","type":"quantitative","scale":{"domain":[0,2],"nice":false,"zero":false},"axis":{"values":[0,0.5,1,1.5,2],"format":".1f","title":"apoB100(g/L)","labelPadding":6,"titlePadding":16}}}},
     {"data":{"name":"hL"},"transform":[{"filter":"datum.k == 'fit'"}],"mark":{"type":"line","color":"black","strokeWidth":3.5},"encoding":{"x":{"field":"x","type":"quantitative"},"y":{"field":"y","type":"quantitative"}}},
     {"data":{"name":"hL"},"transform":[{"filter":"datum.k != 'fit'"}],"mark":{"type":"line","color":"black","strokeWidth":3.5,"strokeDash":[3.5,6.5]},"encoding":{"x":{"field":"x","type":"quantitative"},"y":{"field":"y","type":"quantitative"},"detail":{"field":"k"}}},
     {"data":{"name":"hT"},"mark":{"type":"text","align":"left","baseline":"middle","font":"DejaVu Sans","fontSize":26,"color":"black"},"encoding":{"x":{"field":"x","type":"quantitative"},"y":{"field":"y","type":"quantitative"},"text":{"field":"t"}}}
    ]}
  ],
  "spacing":0,"bounds":"flush",
  "resolve":{"scale":{"x":"independent","y":"independent"}}}
]
}
